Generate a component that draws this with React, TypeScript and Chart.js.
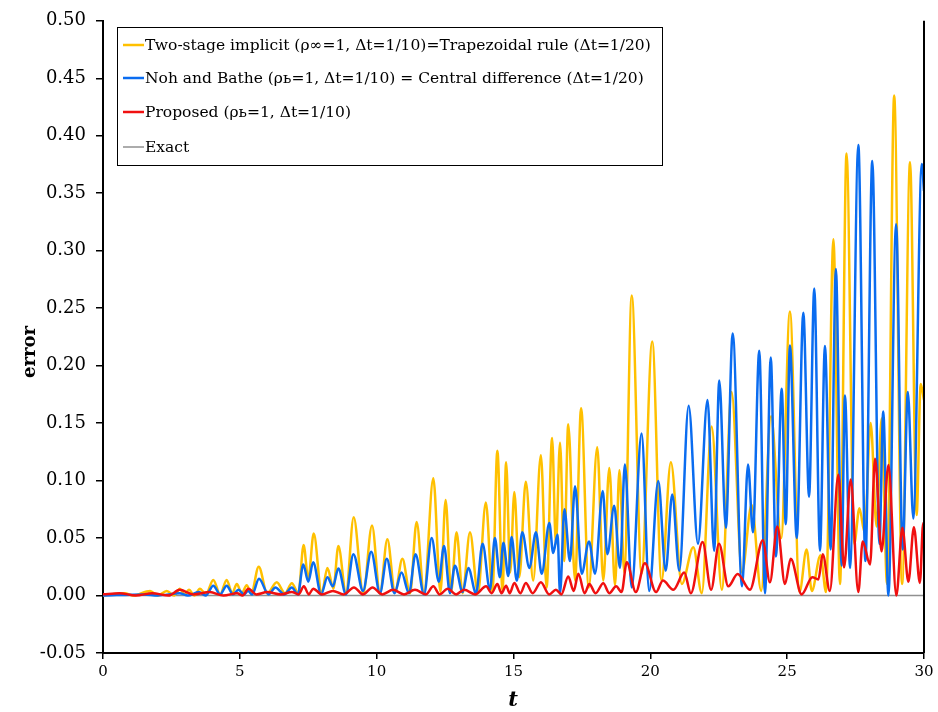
import { useEffect, useRef } from "react";
import { Chart, registerables } from "chart.js";

Chart.register(...registerables);

// ---- Data (t, error) ----
const twoStage: [number, number][] = [
  [0, 0], [0.8, 0.002], [1.1, 0], [1.72, 0.004], [2.0, 0], [2.33, 0.004], [2.6, 0], [2.81, 0.006], [2.98, 0.001],
  [3.14, 0.005], [3.34, 0], [3.54, 0.006], [3.76, 0.001], [4.03, 0.0135], [4.28, 0.001], [4.52, 0.0135], [4.72, 0.002],
  [4.89, 0.01], [5.07, 0.002], [5.25, 0.009], [5.42, 0.002], [5.69, 0.025], [6.0, 0.002], [6.35, 0.0115], [6.65, 0.002],
  [6.9, 0.0106], [7.14, 0.002], [7.33, 0.044], [7.5, 0.014], [7.7, 0.054], [7.99, 0.002], [8.2, 0.024], [8.42, 0.006],
  [8.6, 0.043], [8.88, 0.002], [9.16, 0.068], [9.51, 0.002], [9.83, 0.061], [10.12, 0.002], [10.39, 0.049], [10.67, 0.003],
  [10.94, 0.032], [11.22, 0.002], [11.46, 0.064], [11.73, 0.002], [12.07, 0.102], [12.33, 0.003], [12.52, 0.083],
  [12.72, 0.003], [12.92, 0.055], [13.14, 0.002], [13.41, 0.055], [13.7, 0.002], [13.99, 0.081], [14.23, 0.003],
  [14.41, 0.126], [14.6, 0.004], [14.73, 0.116], [14.88, 0.02], [15.03, 0.09], [15.21, 0.016], [15.45, 0.099],
  [15.72, 0.013], [16.0, 0.122], [16.21, 0.007], [16.41, 0.137], [16.55, 0.045], [16.7, 0.133], [16.85, 0.03],
  [17.0, 0.149], [17.25, 0.013], [17.47, 0.163], [17.75, 0.007], [18.06, 0.129], [18.28, 0.013], [18.5, 0.111],
  [18.71, 0.009], [18.87, 0.109], [19.05, 0.02], [19.32, 0.261], [19.68, 0.019], [20.07, 0.221], [20.41, 0.013],
  [20.75, 0.116], [21.15, 0.01], [21.57, 0.042], [21.88, 0.002], [22.24, 0.147], [22.61, 0.005], [22.97, 0.177],
  [23.35, 0.02], [23.7, 0.079], [24.05, 0.004], [24.41, 0.156], [24.78, 0.05], [25.1, 0.247], [25.45, 0.003],
  [25.71, 0.04], [25.9, 0.004], [26.22, 0.035], [26.42, 0.003], [26.69, 0.31], [26.93, 0.01], [27.17, 0.3845],
  [27.45, 0.045], [27.64, 0.076], [27.83, 0.055], [28.05, 0.15], [28.27, 0.06], [28.45, 0.154], [28.65, 0.01],
  [28.91, 0.435], [29.2, 0.01], [29.49, 0.377], [29.73, 0.07], [29.88, 0.184], [30.0, 0.17],
];

const nohBathe: [number, number][] = [
  [0, 0], [1.5, 0.001], [2.0, 0], [2.8, 0.002], [3.1, 0], [3.5, 0.003], [3.75, 0], [4.03, 0.0086], [4.28, 0.001],
  [4.52, 0.0086], [4.75, 0.001], [4.95, 0.005], [5.15, 0.001], [5.3, 0.004], [5.45, 0.001], [5.7, 0.0145], [6.05, 0.001],
  [6.3, 0.007], [6.62, 0.001], [6.9, 0.007], [7.12, 0.001], [7.32, 0.027], [7.5, 0.012], [7.68, 0.029], [7.97, 0.001],
  [8.2, 0.016], [8.4, 0.008], [8.6, 0.0235], [8.88, 0.001], [9.15, 0.036], [9.5, 0.004], [9.8, 0.038], [10.12, 0.002],
  [10.37, 0.032], [10.65, 0.002], [10.91, 0.02], [11.18, 0.002], [11.42, 0.036], [11.73, 0.001], [12.01, 0.05],
  [12.27, 0.012], [12.46, 0.043], [12.68, 0.002], [12.86, 0.026], [13.14, 0.003], [13.35, 0.024], [13.63, 0.002],
  [13.87, 0.045], [14.14, 0.005], [14.32, 0.05], [14.5, 0.016], [14.63, 0.046], [14.81, 0.017], [14.93, 0.051],
  [15.12, 0.013], [15.32, 0.055], [15.58, 0.024], [15.82, 0.055], [16.03, 0.019], [16.31, 0.063], [16.45, 0.037],
  [16.61, 0.053], [16.7, 0.002], [16.86, 0.075], [17.06, 0.03], [17.25, 0.095], [17.49, 0.019], [17.76, 0.047],
  [17.98, 0.019], [18.26, 0.091], [18.43, 0.036], [18.68, 0.078], [18.89, 0.024], [19.07, 0.114], [19.32, 0.007],
  [19.68, 0.141], [19.96, 0.004], [20.29, 0.0997], [20.56, 0.0215], [20.8, 0.088], [21.06, 0.0215], [21.4, 0.165],
  [21.74, 0.045], [22.09, 0.17], [22.33, 0.039], [22.52, 0.187], [22.76, 0.059], [23.01, 0.228], [23.35, 0.008],
  [23.57, 0.114], [23.75, 0.055], [23.98, 0.213], [24.19, 0.002], [24.4, 0.207], [24.59, 0.034], [24.8, 0.18],
  [24.95, 0.062], [25.1, 0.2175], [25.35, 0.05], [25.59, 0.246], [25.8, 0.086], [25.99, 0.267], [26.2, 0.039],
  [26.38, 0.217], [26.59, 0.04], [26.78, 0.284], [26.99, 0.026], [27.11, 0.174], [27.3, 0.024], [27.6, 0.392],
  [27.86, 0.03], [28.11, 0.378], [28.37, 0.045], [28.51, 0.16], [28.7, 0.0], [28.98, 0.323], [29.22, 0.04],
  [29.41, 0.177], [29.61, 0.067], [29.92, 0.3755], [30.0, 0.352],
];

const proposed: [number, number][] = [
  [0, 0.001], [0.6, 0.002], [1.2, 0], [1.8, 0.002], [2.4, 0], [2.8, 0.005], [3.3, 0.001], [3.9, 0.003], [4.4, 0],
  [4.9, 0.002], [5.1, 0], [5.31, 0.006], [5.6, 0.001], [6.0, 0.003], [6.5, 0.001], [6.9, 0.003], [7.15, 0.001],
  [7.34, 0.008], [7.52, 0.001], [7.68, 0.006], [8.0, 0.001], [8.4, 0.004], [8.8, 0.001], [9.17, 0.007], [9.5, 0.001],
  [9.85, 0.007], [10.2, 0.001], [10.6, 0.005], [11.0, 0.001], [11.4, 0.005], [11.8, 0.001], [12.07, 0.008], [12.3, 0.001],
  [12.6, 0.006], [12.9, 0.001], [13.2, 0.005], [13.6, 0.001], [14.0, 0.008], [14.2, 0.002], [14.41, 0.01], [14.56, 0.002],
  [14.73, 0.0086], [14.86, 0.002], [15.03, 0.011], [15.25, 0.002], [15.45, 0.011], [15.7, 0.002], [16.0, 0.0115],
  [16.3, 0.001], [16.55, 0.005], [16.75, 0.001], [17.0, 0.0166], [17.2, 0.004], [17.37, 0.019], [17.6, 0.002],
  [17.77, 0.01], [18.0, 0.002], [18.28, 0.0106], [18.5, 0.002], [18.75, 0.008], [18.95, 0.003], [19.14, 0.029],
  [19.47, 0.003], [19.8, 0.028], [20.21, 0.003], [20.46, 0.013], [20.84, 0.005], [21.24, 0.02], [21.48, 0.002],
  [21.91, 0.0465], [22.22, 0.005], [22.51, 0.045], [22.85, 0.008], [23.19, 0.0187], [23.64, 0.005], [24.11, 0.048],
  [24.37, 0.0115], [24.64, 0.06], [24.92, 0.01], [25.13, 0.032], [25.53, 0.001], [25.92, 0.016], [26.14, 0.014],
  [26.3, 0.036], [26.56, 0.004], [26.87, 0.105], [27.08, 0.0245], [27.32, 0.101], [27.6, 0.003], [27.76, 0.047],
  [28.03, 0.027], [28.21, 0.119], [28.45, 0.0385], [28.7, 0.1135], [28.99, 0.0], [29.21, 0.059], [29.43, 0.012],
  [29.63, 0.0595], [29.85, 0.011], [29.97, 0.063], [30.0, 0.062],
];

const exact: [number, number][] = [[0, 0], [30, 0]];

const seriesLabels = [
  "Two-stage implicit (ρ∞=1, Δt=1/10)=Trapezoidal rule (Δt=1/20)",
  "Noh and Bathe (ρь=1, Δt=1/10) = Central difference (Δt=1/20)",
  "Proposed (ρь=1, Δt=1/10)",
  "Exact",
];
const seriesColors = ["#FFC000", "#0A6CF0", "#F01010", "#909090"];

const X_MIN = 0, X_MAX = 30, X_STEP = 5;
const Y_MIN = -0.05, Y_MAX = 0.5, Y_STEP = 0.05;
const xTitle = "t";
const yTitle = "error";

const SERIF = '"DejaVu Serif", "Liberation Serif", serif';

const overlayPlugin = {
  id: "overlay",
  afterDraw(chart: any) {
    const ctx = chart.ctx as CanvasRenderingContext2D;
    const area = chart.chartArea;
    ctx.save();
    // right border of plot
    ctx.strokeStyle = "#000";
    ctx.lineWidth = 2;
    ctx.beginPath();
    ctx.moveTo(area.right, area.top);
    ctx.lineTo(area.right, area.bottom);
    ctx.stroke();

    // legend box
    const bx = 117.5, by = 27.5, bw = 545, bh = 138;
    ctx.fillStyle = "#fff";
    ctx.fillRect(bx, by, bw, bh);
    ctx.strokeStyle = "#000";
    ctx.lineWidth = 1;
    ctx.strokeRect(bx, by, bw, bh);
    const rows = [45, 78, 112, 147];
    ctx.font = `15.5px ${SERIF}`;
    ctx.textBaseline = "middle";
    ctx.textAlign = "left";
    seriesLabels.forEach((label, i) => {
      const y = rows[i];
      ctx.strokeStyle = seriesColors[i];
      ctx.lineWidth = i === 3 ? 1.5 : 2.5;
      ctx.beginPath();
      ctx.moveTo(123, y);
      ctx.lineTo(144, y);
      ctx.stroke();
      ctx.fillStyle = "#000";
      ctx.fillText(label, 145, y + 1);
    });

    // axis titles
    ctx.fillStyle = "#000";
    ctx.font = `bold 18px ${SERIF}`;
    ctx.textAlign = "center";
    ctx.save();
    ctx.translate(30, 352);
    ctx.rotate(-Math.PI / 2);
    ctx.fillText(yTitle, 0, 0);
    ctx.restore();
    ctx.font = `italic bold 21px ${SERIF}`;
    ctx.fillText(xTitle, 513, 701);
    ctx.restore();
  },
};

export default function App() {
  const ref = useRef<HTMLCanvasElement>(null);
  useEffect(() => {
    const toXY = (arr: [number, number][]) => arr.map(([x, y]) => ({ x, y }));
    const lineDs = (data: [number, number][], i: number, order: number) => ({
      label: seriesLabels[i],
      data: toXY(data),
      borderColor: seriesColors[i],
      backgroundColor: seriesColors[i],
      borderWidth: i === 3 ? 1.5 : 2.5,
      pointRadius: 0,
      fill: false,
      cubicInterpolationMode: "monotone" as const,
      order,
    });
    const chart = new Chart(ref.current as HTMLCanvasElement, {
      type: "line",
      data: {
        datasets: [
          lineDs(twoStage, 0, 3),
          lineDs(nohBathe, 1, 2),
          lineDs(proposed, 2, 0),
          lineDs(exact, 3, 4),
        ],
      },
      options: {
        animation: false,
        responsive: false,
        layout: { padding: { top: 16, right: 14, left: 0, bottom: 0 } },
        plugins: { legend: { display: false }, tooltip: { enabled: false } },
        scales: {
          x: {
            type: "linear",
            min: X_MIN,
            max: X_MAX,
            ticks: {
              stepSize: X_STEP,
              color: "#000",
              font: { family: SERIF, size: 15 },
              padding: 4,
              maxRotation: 0,
            },
            grid: { display: true, drawOnChartArea: false, drawTicks: true, tickLength: 6, color: "#000", lineWidth: 1.5 },
            border: { display: true, color: "#000", width: 2 },
            afterFit: (s: any) => { s.height = 59; },
          },
          y: {
            type: "linear",
            min: Y_MIN,
            max: Y_MAX,
            ticks: {
              stepSize: Y_STEP,
              color: "#000",
              font: { family: SERIF, size: 18 },
              padding: 10,
              callback: (v: any) => {
                const n = Math.abs(Number(v)) < 1e-9 ? 0 : Number(v);
                return n.toFixed(2);
              },
            },
            grid: { display: true, drawOnChartArea: false, drawTicks: true, tickLength: 7, color: "#000", lineWidth: 1.5 },
            border: { display: true, color: "#000", width: 2 },
            afterFit: (s: any) => { s.width = 103; },
          },
        },
      },
      plugins: [overlayPlugin],
    });
    return () => chart.destroy();
  }, []);
  return (
    <div style={{ position: "absolute", left: 0, top: 0, width: 938, height: 712, background: "#fff" }}>
      <canvas ref={ref} width={938} height={712} style={{ display: "block" }} />
    </div>
  );
}
